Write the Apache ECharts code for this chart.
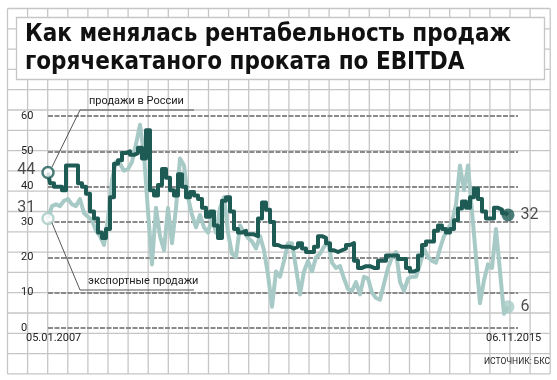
<!DOCTYPE html>
<html><head><meta charset="utf-8">
<script src="https://cdn.jsdelivr.net/npm/echarts@6/dist/echarts.min.js"></script>
<style>html,body{margin:0;padding:0;background:#fff}#c{width:557px;height:380px}</style>
</head><body><div id="c"></div>
<script>
const titleLines = ['Как менялась рентабельность продаж', 'горячекатаного проката по EBITDA'];
const yTicks = [0, 10, 20, 30, 40, 50, 60];
const startDate = '05.01.2007';
const endDate = '06.11.2015';
const legendRussia = 'продажи в России';
const legendExport = 'экспортные продажи';
const sourceText = 'ИСТОЧНИК: БКС';

// sampled roughly every 4 weeks from 05.01.2007 to 06.11.2015
const russia = [44,41,40,40,39,46,46,46,41,40,38,33,31,27,25.5,28,37,46.5,47.5,49.5,
  50,49,49.5,51,48,56,39,37.5,40.5,45,42.5,39,37.5,43.5,40,37,38.5,37.5,36.5,34,
  31.5,33,29,25.5,36,37,33,28,27,27.5,26.5,26.5,26,31,35.5,33.5,30,23.5,23,23,
  23,22.5,23,24,22.5,21.5,21.5,23,26,25.5,24,22,21.5,22,22.5,23.5,24,19,17,17.5,
  17.5,17,17,19,19,20.5,20.5,20.5,19.5,19.5,17,16,16.5,20.5,23.5,24.5,24.5,27.5,29,28,
  27,28,30.5,33.8,35.8,34,37,39.5,36.5,33,31,31,34,33.5,32.5,32];
const exportSales = [31,34.5,35,34.5,36,36.5,35,34.5,36.5,32.5,31.5,30.5,27.5,26,23.5,31,42,47,46.5,44.5,
  45,47,52,57.5,49,33,18,34,26,22,34,24,34,48,46,37,32,28.5,32,28.5,
  27,31,27,34,37,27,21,20,29,27,25.5,24.5,22.5,26,22,15,6,16,14.5,19,
  24,24,17,9.5,16,19,16,20,21,23,24.5,18.5,17,17.5,14,11,10.5,13,9.5,14.5,
  14,10,8.5,8,12.5,17,20,21.5,13,10.5,14,14.5,14.5,18,22.5,20,19,18.5,22.5,26,
  28,30,35,46,39,46,33,20,7,13.5,18,17,28,16,4,6];

const DARK = '#1f5b55';
const LIGHT = '#a8cac6';
const GRIDC = '#c6c6c6';

const gridLeft = 48, gridTop = 116, gridW = 470, gridH = 212;
const xMax = 117.5;
const last = russia.length - 1;

function toXY(arr) { return arr.map((v, i) => [i, v]); }

const bg = [];
for (let k = 0; k <= 27; k++) {
  const x = 7.5 + k * 20.1;
  bg.push({type: 'line', z: -20, shape: {x1: x, y1: 8.5, x2: x, y2: 374}, style: {stroke: GRIDC, lineWidth: 1.3}});
}
for (let k = 0; k <= 18; k++) {
  const y = 8.5 + k * 20.3;
  bg.push({type: 'line', z: -20, shape: {x1: 7.5, y1: y, x2: 550, y2: y}, style: {stroke: GRIDC, lineWidth: 1.3}});
}
bg.push({type: 'rect', z: -10, shape: {x: 16.5, y: 17.5, width: 528, height: 62}, style: {fill: '#fff', stroke: GRIDC, lineWidth: 1.3}});
const TF = 'bold 24px "DejaVu Sans Condensed", "DejaVu Sans"';
bg.push({type: 'text', z: 50, left: 25, top: 23, style: {text: titleLines[0], font: TF, fill: '#111'}});
bg.push({type: 'text', z: 50, left: 25, top: 51, style: {text: titleLines[1], font: TF, fill: '#111'}});

bg.push({type: 'polyline', z: 40, shape: {points: [[52, 167], [80, 110], [194, 110]]}, style: {stroke: '#555', lineWidth: 1, fill: null}});
bg.push({type: 'polyline', z: 40, shape: {points: [[52, 223], [80, 290], [194, 290]]}, style: {stroke: '#555', lineWidth: 1, fill: null}});
bg.push({type: 'text', z: 50, left: 89, top: 96, style: {text: legendRussia, font: '11px Roboto', fill: '#222'}});
bg.push({type: 'text', z: 50, left: 88, top: 276, style: {text: legendExport, font: '11px Roboto', fill: '#222'}});

bg.push({type: 'text', z: 50, left: 26, top: 333, style: {text: startDate, font: '11px Roboto', fill: '#222'}});
bg.push({type: 'text', z: 50, left: 486, top: 333, style: {text: endDate, font: '11px Roboto', fill: '#222'}});
bg.push({type: 'text', z: 50, left: 484, top: 357, style: {text: sourceText, font: '8.5px Roboto', fill: '#222'}});

const chart = echarts.init(document.getElementById('c'));
chart.setOption({
  animation: false,
  grid: {left: gridLeft, top: gridTop, width: gridW, height: gridH, containLabel: false},
  xAxis: {type: 'value', min: 0, max: xMax, show: false, splitLine: {show: false}},
  yAxis: {
    type: 'value', min: yTicks[0], max: yTicks[yTicks.length - 1], interval: 10,
    axisLine: {show: false}, axisTick: {show: false},
    axisLabel: {align: 'left', margin: 27, color: '#222', fontSize: 11, fontFamily: 'Roboto'},
    splitLine: {lineStyle: {color: '#8a8a8a', width: 2, type: [5, 1.5]}}
  },
  graphic: {elements: bg},
  series: [
    {type: 'line', data: toXY(exportSales), symbol: 'none', z: 3,
     lineStyle: {color: LIGHT, width: 4, join: 'round'}},
    {type: 'line', data: toXY(russia), symbol: 'none', z: 4, step: 'middle',
     lineStyle: {color: DARK, width: 4, join: 'round'}},
    {type: 'scatter', z: 6, symbolSize: 11,
     data: [
       {value: [0, russia[0]], itemStyle: {color: '#fff', borderColor: DARK, borderWidth: 2.5},
        label: {show: true, position: 'left', distance: 6, offset: [0, -3], formatter: String(russia[0]), fontSize: 16, color: '#222', fontFamily: 'Roboto'}},
       {value: [0, exportSales[0]], itemStyle: {color: '#fff', borderColor: LIGHT, borderWidth: 2.5},
        label: {show: true, position: 'left', distance: 6, offset: [0, -10], formatter: String(exportSales[0]), fontSize: 16, color: '#222', fontFamily: 'Roboto'}},
       {value: [last, russia[last]], symbolSize: 13, itemStyle: {color: DARK},
        label: {show: true, position: 'right', distance: 6, formatter: String(russia[last]), fontSize: 16, color: '#222', fontFamily: 'Roboto'}},
       {value: [last, exportSales[last]], symbolSize: 13, itemStyle: {color: LIGHT},
        label: {show: true, position: 'right', distance: 6, formatter: String(exportSales[last]), fontSize: 16, color: '#222', fontFamily: 'Roboto'}}
     ]}
  ]
});
</script></body></html>
